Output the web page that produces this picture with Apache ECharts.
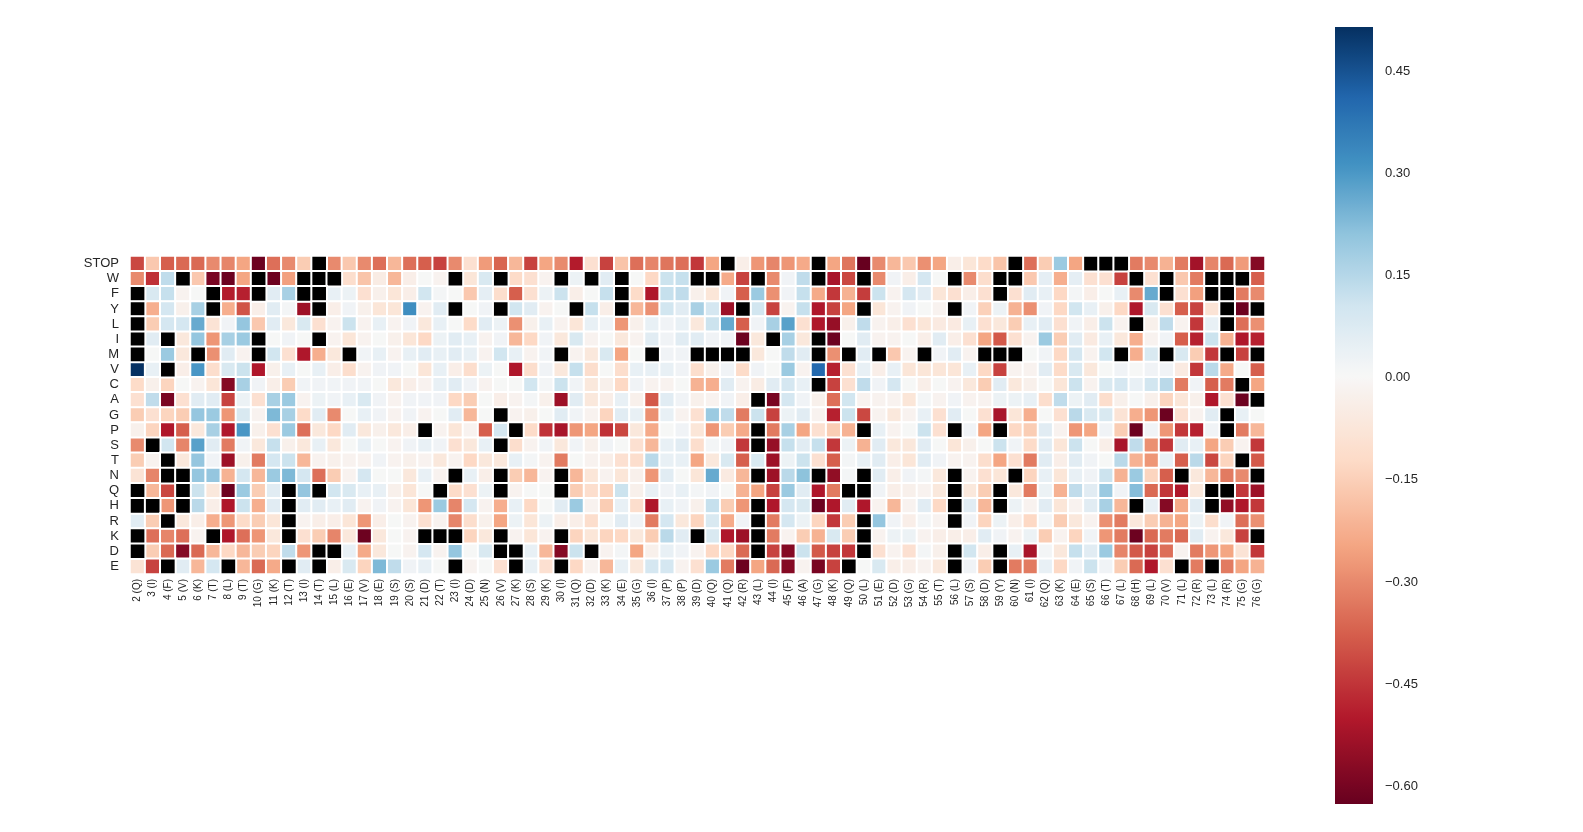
<!DOCTYPE html>
<html><head><meta charset="utf-8">
<script src="https://cdn.jsdelivr.net/npm/echarts@6/dist/echarts.min.js"></script>
<style>html,body{margin:0;padding:0;background:#fff}#chart{width:1583px;height:832px}</style>
</head><body><div id="chart"></div>
<script>
// Column categories (position, wild-type residue)
const positions = ['2 (Q)','3 (I)','4 (F)','5 (V)','6 (K)','7 (T)','8 (L)','9 (T)','10 (G)','11 (K)','12 (T)','13 (I)','14 (T)','15 (L)','16 (E)','17 (V)','18 (E)','19 (S)','20 (S)','21 (D)','22 (T)','23 (I)','24 (D)','25 (N)','26 (V)','27 (K)','28 (S)','29 (K)','30 (I)','31 (Q)','32 (D)','33 (K)','34 (E)','35 (G)','36 (I)','37 (P)','38 (P)','39 (D)','40 (Q)','41 (Q)','42 (R)','43 (L)','44 (I)','45 (F)','46 (A)','47 (G)','48 (K)','49 (Q)','50 (L)','51 (E)','52 (D)','53 (G)','54 (R)','55 (T)','56 (L)','57 (S)','58 (D)','59 (Y)','60 (N)','61 (I)','62 (Q)','63 (K)','64 (E)','65 (S)','66 (T)','67 (L)','68 (H)','69 (L)','70 (V)','71 (L)','72 (R)','73 (L)','74 (R)','75 (G)','76 (G)'];
// Row categories (substituted residue)
const mutations = ['STOP','W','F','Y','L','I','M','V','C','A','G','P','S','T','N','Q','H','R','K','D','E'];
// Values per row (null = missing, drawn black)
const values = [
[-0.42,-0.17,-0.38,-0.36,-0.36,-0.30,-0.31,-0.25,-0.62,-0.35,-0.30,-0.16,null,-0.30,-0.17,-0.30,-0.35,-0.21,-0.35,-0.38,-0.43,-0.30,-0.10,-0.27,-0.37,-0.21,-0.43,-0.25,-0.30,-0.50,-0.10,-0.43,-0.18,-0.35,-0.31,-0.34,-0.35,-0.45,-0.25,null,-0.04,-0.28,-0.31,-0.28,-0.24,null,-0.25,-0.34,-0.63,-0.30,-0.21,-0.17,-0.29,-0.25,-0.04,-0.08,-0.12,-0.18,null,-0.35,-0.16,0.19,-0.25,null,null,null,-0.33,-0.30,-0.22,-0.33,-0.53,-0.31,-0.36,-0.27,-0.58],
[-0.30,-0.46,0.13,null,-0.17,-0.60,-0.62,-0.25,null,-0.62,-0.26,null,null,null,-0.11,-0.18,-0.05,-0.21,-0.04,0.0,-0.02,null,-0.08,0.08,null,-0.12,-0.10,-0.02,null,0.03,null,0.06,null,0.0,-0.13,0.11,0.12,null,null,-0.24,-0.43,null,-0.30,0.02,0.13,null,-0.52,-0.42,null,-0.30,0.02,-0.04,0.09,0.0,null,-0.30,-0.11,null,null,-0.17,0.05,-0.23,0.05,-0.10,-0.10,-0.43,null,-0.10,null,-0.17,-0.33,null,null,null,-0.38],
[null,0.08,0.12,-0.02,0.0,null,-0.50,-0.49,null,0.06,0.17,null,null,0.04,0.03,-0.10,-0.03,-0.08,-0.04,0.10,0.01,0.0,-0.17,0.05,-0.11,-0.38,-0.10,0.03,0.11,-0.04,0.0,0.12,null,-0.12,-0.51,0.12,0.13,-0.03,-0.08,0.02,-0.38,0.19,-0.29,0.02,0.12,-0.24,-0.45,-0.22,-0.44,0.11,-0.02,0.09,0.06,-0.08,-0.10,-0.04,-0.10,null,-0.10,0.06,0.04,-0.13,0.01,-0.04,0.0,0.04,-0.30,0.26,null,-0.10,-0.26,null,null,-0.33,-0.30],
[null,-0.23,0.09,-0.03,0.17,null,-0.23,-0.40,-0.04,0.06,0.01,-0.54,null,-0.04,0.02,-0.03,-0.08,-0.08,0.32,-0.02,0.06,null,0.0,0.02,null,0.10,0.06,-0.02,0.0,null,0.12,-0.04,null,-0.21,-0.29,0.10,0.06,0.17,0.09,-0.54,null,0.10,-0.43,-0.02,0.12,-0.51,-0.43,-0.25,null,-0.08,-0.02,0.02,0.0,-0.02,null,0.02,-0.15,0.03,-0.22,-0.29,0.02,-0.13,0.10,0.04,-0.03,-0.13,-0.51,0.08,-0.10,-0.38,-0.43,-0.09,null,-0.62,null],
[null,-0.16,0.09,0.09,0.26,-0.09,0.02,0.20,-0.17,0.06,-0.07,0.08,-0.10,-0.02,0.11,-0.02,0.04,-0.02,0.02,-0.07,0.04,0.0,-0.12,0.06,0.03,-0.29,-0.03,0.04,-0.02,-0.08,0.04,0.02,-0.28,-0.03,0.04,0.02,0.04,-0.07,0.11,0.26,-0.38,0.02,0.17,0.28,-0.10,-0.51,-0.55,-0.03,0.13,-0.02,-0.04,-0.10,-0.08,-0.06,-0.06,0.04,-0.10,-0.07,-0.16,0.04,0.06,-0.10,0.02,-0.04,0.11,-0.02,null,-0.03,0.13,-0.02,-0.45,0.04,null,-0.35,-0.29],
[null,0.06,null,-0.07,0.20,-0.28,0.17,0.19,null,0.0,0.02,0.0,null,-0.02,-0.08,-0.02,0.0,-0.03,-0.08,-0.13,0.03,0.06,0.04,-0.02,0.02,-0.21,-0.13,0.02,-0.07,0.08,-0.02,0.0,-0.07,-0.02,0.06,0.02,0.06,0.06,0.02,0.02,-0.62,-0.07,null,0.17,-0.07,null,-0.62,0.0,0.06,-0.02,-0.02,0.0,-0.04,0.06,-0.04,-0.10,-0.25,-0.39,-0.10,-0.02,0.19,-0.16,0.06,-0.06,0.04,-0.07,-0.23,-0.02,0.02,-0.38,-0.49,0.11,-0.22,-0.51,-0.49],
[null,0.0,0.19,-0.07,null,-0.29,0.06,-0.02,null,0.10,-0.10,-0.51,-0.23,-0.07,null,0.02,0.04,-0.02,0.04,0.06,0.04,0.06,0.04,-0.02,0.10,0.04,-0.02,0.02,null,-0.02,-0.07,0.08,-0.25,0.0,null,0.02,0.02,null,null,null,null,-0.07,0.0,0.13,0.06,null,-0.29,null,0.06,null,-0.17,-0.02,null,0.02,0.06,-0.02,null,null,null,0.0,0.02,-0.13,0.09,-0.02,0.10,null,-0.23,0.08,null,0.08,-0.16,-0.45,null,-0.43,null],
[0.51,0.04,null,-0.04,0.30,-0.11,0.08,0.11,-0.51,-0.03,0.04,0.0,0.04,-0.04,-0.11,-0.02,0.02,0.02,0.0,-0.08,0.04,-0.04,-0.11,0.03,0.0,-0.51,-0.11,0.02,-0.07,0.12,-0.11,0.0,-0.11,0.04,0.04,0.04,0.02,-0.11,-0.03,0.02,-0.12,0.02,0.0,0.19,-0.02,0.40,-0.49,-0.10,0.04,-0.04,0.04,-0.08,-0.08,-0.08,-0.08,0.04,-0.13,-0.43,-0.02,-0.02,0.06,-0.12,0.08,-0.07,0.0,0.02,0.0,0.02,0.02,-0.06,-0.45,0.14,-0.24,0.0,-0.38],
[-0.12,-0.03,-0.14,0.0,-0.02,-0.08,-0.58,0.17,0.02,-0.04,-0.16,0.02,0.02,0.02,0.02,0.02,0.0,-0.07,-0.04,-0.02,0.04,0.06,0.02,-0.02,0.0,0.0,0.10,0.01,0.11,0.02,-0.07,-0.03,-0.13,0.02,-0.02,-0.02,0.0,-0.22,-0.23,0.06,-0.02,-0.05,0.06,0.09,0.04,null,-0.43,-0.10,0.13,0.02,0.09,0.0,-0.04,0.0,-0.02,-0.07,-0.16,0.06,-0.07,-0.03,0.0,-0.08,0.11,-0.02,0.08,0.09,0.04,0.10,0.14,-0.33,0.02,-0.38,-0.33,null,-0.25],
[-0.10,0.13,-0.60,-0.10,0.06,0.06,-0.43,0.03,-0.10,0.17,0.19,-0.02,0.03,0.02,0.04,0.08,0.02,-0.02,0.02,0.02,0.02,-0.13,-0.16,0.0,-0.04,-0.02,0.01,-0.03,-0.54,0.06,-0.07,-0.04,0.04,-0.03,-0.39,0.06,0.02,-0.03,-0.02,0.02,-0.04,null,-0.60,0.09,0.02,-0.03,-0.35,0.10,-0.02,-0.02,-0.02,-0.08,0.01,-0.02,0.02,-0.02,-0.02,0.03,0.03,0.04,-0.11,0.13,0.03,0.06,-0.11,-0.03,0.0,-0.03,-0.14,-0.08,-0.03,-0.51,-0.10,-0.62,null],
[-0.16,-0.10,-0.14,-0.16,0.20,0.19,-0.28,0.08,-0.02,0.23,0.17,-0.12,0.06,-0.30,0.0,0.04,0.02,-0.02,0.02,-0.02,0.0,0.06,-0.21,0.0,null,-0.02,-0.03,0.0,0.06,0.02,-0.02,-0.14,0.06,0.04,-0.29,0.04,-0.02,-0.10,0.19,0.13,-0.33,0.11,-0.43,0.03,0.06,-0.02,-0.49,0.11,-0.42,-0.02,-0.07,-0.02,0.04,-0.10,0.06,0.0,-0.10,-0.52,-0.08,-0.23,0.0,-0.10,0.14,0.08,0.08,-0.09,-0.23,-0.28,-0.62,-0.10,-0.02,0.06,null,0.04,0.0],
[-0.03,-0.14,-0.51,-0.38,-0.07,0.17,-0.51,0.30,-0.03,-0.10,0.19,-0.35,-0.07,-0.13,0.06,-0.07,-0.03,-0.07,-0.04,null,-0.02,-0.08,-0.02,-0.38,0.09,null,-0.12,-0.46,-0.52,-0.28,-0.25,-0.46,-0.42,-0.07,-0.24,0.0,0.02,-0.08,-0.28,-0.16,-0.24,null,-0.33,0.17,-0.25,-0.10,-0.16,-0.22,null,0.04,-0.02,0.0,0.11,-0.10,null,0.02,-0.25,null,-0.13,-0.16,0.06,-0.02,-0.28,-0.25,0.02,-0.16,-0.62,0.02,-0.28,-0.45,-0.49,0.02,null,-0.33,-0.21],
[-0.30,null,0.10,-0.31,0.28,0.06,-0.33,0.02,-0.07,0.12,-0.03,-0.07,0.04,-0.07,0.0,0.04,0.0,-0.02,0.02,0.04,0.02,-0.10,-0.07,0.04,null,-0.11,-0.02,0.02,-0.07,0.02,-0.03,0.02,0.0,-0.10,-0.21,0.04,0.06,-0.11,0.01,0.02,-0.45,null,-0.55,0.12,0.06,0.12,-0.45,0.03,-0.22,0.06,-0.07,-0.07,0.06,0.0,-0.08,-0.03,0.0,0.11,0.02,-0.12,0.06,-0.08,0.11,0.0,-0.04,-0.52,0.13,-0.29,-0.45,0.06,0.04,-0.25,-0.16,-0.02,-0.45],
[-0.16,-0.02,null,-0.07,0.20,0.02,-0.54,-0.03,-0.33,0.09,0.11,-0.21,-0.02,-0.03,-0.02,-0.02,0.02,-0.02,-0.03,-0.02,-0.07,-0.02,-0.13,-0.07,-0.07,0.04,0.01,-0.02,-0.33,0.0,-0.02,-0.04,-0.10,-0.11,0.14,0.04,0.04,-0.25,-0.07,0.08,-0.38,0.08,-0.54,0.03,0.11,-0.10,-0.38,0.01,0.04,0.06,-0.04,-0.08,0.06,0.02,-0.02,-0.02,-0.11,-0.25,-0.10,-0.33,0.06,-0.04,0.06,0.02,0.0,0.14,-0.22,-0.28,0.04,-0.38,0.14,-0.42,-0.14,null,-0.39],
[-0.09,-0.31,null,null,0.20,0.20,-0.22,0.09,-0.21,0.19,0.23,0.09,-0.35,-0.16,-0.02,0.09,0.0,0.0,-0.07,0.04,-0.02,null,0.04,-0.04,null,-0.16,-0.21,-0.02,null,-0.21,-0.08,-0.02,-0.08,-0.03,-0.28,0.06,0.0,-0.08,0.26,-0.06,-0.21,null,-0.54,0.14,0.21,null,-0.56,0.01,null,0.06,-0.04,0.02,0.01,-0.07,null,-0.02,-0.10,-0.08,null,-0.14,0.04,-0.08,0.04,0.02,0.11,-0.22,0.19,-0.14,-0.38,null,-0.07,-0.21,-0.33,-0.30,null],
[null,-0.21,-0.42,null,0.11,-0.07,-0.62,0.19,-0.16,0.06,null,0.20,null,0.10,0.08,0.04,0.04,-0.03,-0.08,0.0,null,-0.12,-0.10,0.03,null,-0.02,0.0,0.0,null,-0.16,-0.11,-0.14,0.11,-0.03,0.04,0.02,0.04,0.01,0.02,0.0,-0.22,-0.25,-0.43,0.19,0.06,-0.51,-0.33,null,null,0.02,-0.04,-0.03,-0.02,-0.07,null,-0.07,-0.16,null,-0.07,-0.33,0.03,-0.22,0.13,0.06,0.19,0.02,0.22,-0.36,-0.45,-0.51,-0.07,null,null,-0.45,-0.54],
[null,null,-0.28,null,0.14,-0.04,-0.51,0.11,-0.23,0.06,null,0.06,0.06,0.04,0.06,-0.02,0.02,-0.02,-0.08,-0.28,0.19,-0.31,0.09,-0.02,-0.23,0.04,-0.13,0.0,0.06,0.19,-0.02,-0.16,0.04,-0.11,-0.51,0.04,0.02,-0.03,0.12,-0.16,-0.28,null,-0.51,0.09,0.08,-0.62,-0.51,0.06,-0.51,-0.02,-0.21,-0.02,0.06,-0.13,null,0.06,-0.21,null,0.03,-0.02,0.06,-0.08,-0.02,0.06,0.17,-0.21,null,0.04,-0.58,-0.24,0.06,null,-0.56,-0.51,-0.45],
[0.06,-0.16,null,-0.07,-0.04,-0.23,-0.28,-0.12,-0.16,-0.08,null,-0.02,-0.04,-0.04,-0.08,-0.28,-0.04,0.0,-0.02,-0.10,-0.02,-0.31,-0.11,-0.03,-0.25,0.03,-0.08,0.03,-0.04,-0.04,-0.11,0.0,0.06,0.02,-0.33,0.09,-0.07,-0.14,0.08,-0.24,0.02,null,-0.33,0.09,0.03,-0.14,-0.45,-0.16,null,0.20,0.02,-0.04,0.01,-0.02,null,0.02,-0.14,0.03,-0.04,-0.13,0.01,-0.16,-0.07,-0.02,-0.29,-0.33,-0.07,-0.16,-0.22,-0.25,0.03,-0.11,0.02,-0.35,-0.29],
[null,-0.35,-0.31,-0.35,-0.02,null,-0.51,-0.35,-0.28,-0.07,null,-0.10,-0.16,-0.31,-0.07,-0.62,-0.07,0.0,-0.02,null,null,null,-0.14,-0.07,null,-0.02,-0.08,-0.02,null,-0.14,-0.08,-0.14,-0.13,-0.07,-0.16,0.14,0.06,null,0.08,-0.51,-0.54,null,-0.33,-0.02,-0.16,-0.22,0.08,-0.16,null,-0.02,0.03,0.03,-0.02,-0.04,-0.04,-0.04,0.06,0.02,-0.02,0.03,-0.16,-0.02,-0.14,0.02,-0.28,-0.33,-0.62,-0.36,-0.33,-0.36,0.06,-0.02,-0.07,-0.43,null],
[null,-0.16,-0.36,-0.58,-0.36,-0.21,-0.13,-0.21,-0.16,-0.14,0.13,-0.28,null,null,0.04,-0.24,-0.07,0.0,-0.02,0.09,-0.02,0.20,0.0,0.08,null,null,0.04,-0.21,-0.58,0.11,null,-0.02,0.01,-0.25,-0.03,0.04,0.02,-0.02,-0.13,-0.13,-0.36,null,-0.43,-0.58,0.11,-0.39,-0.43,-0.45,null,-0.10,-0.02,-0.10,0.01,-0.03,null,0.10,-0.04,null,0.04,-0.52,0.01,-0.07,0.12,0.06,0.19,-0.31,-0.39,-0.43,-0.35,-0.02,-0.33,-0.28,-0.25,-0.09,-0.45],
[-0.09,-0.43,null,0.06,-0.21,0.09,null,-0.21,-0.36,-0.24,null,0.06,null,-0.04,0.08,-0.14,0.23,0.13,0.02,0.04,0.0,null,-0.02,0.0,-0.10,null,0.04,-0.10,null,-0.13,-0.02,-0.21,0.04,-0.07,0.09,0.09,-0.02,-0.10,0.19,-0.33,-0.62,-0.25,-0.36,-0.58,-0.02,-0.60,-0.43,null,0.0,0.08,-0.04,-0.04,-0.02,-0.07,null,0.02,-0.16,null,-0.33,-0.33,0.04,-0.13,0.02,0.11,0.02,-0.16,-0.36,-0.51,-0.10,null,-0.33,null,-0.33,-0.25,-0.22]
];
const colorbarTicks = [-0.60,-0.45,-0.30,-0.15,0.00,0.15,0.30,0.45];
const valueMin = -0.63, valueMax = 0.512;

// RdBu colormap, white pinned at 0
const rdbu = ['#67001f','#b2182b','#d6604d','#f4a582','#fddbc7','#f7f7f7','#d1e5f0','#92c5de','#4393c3','#2166ac','#053061'];
function hex2rgb(h){return [parseInt(h.slice(1,3),16),parseInt(h.slice(3,5),16),parseInt(h.slice(5,7),16)];}
const rdbuRgb = rdbu.map(hex2rgb);
function colorAt(v){
  let t = v < 0 ? 0.5*(v - valueMin)/(0 - valueMin) : 0.5 + 0.5*v/valueMax;
  t = Math.max(0, Math.min(1, t));
  const p = t*10, i = Math.min(9, Math.floor(p)), f = p - i;
  const a = rdbuRgb[i], b = rdbuRgb[i+1];
  const c = a.map((x,k)=>Math.round(x + (b[k]-x)*f));
  return 'rgb(' + c.join(',') + ')';
}
const NSTOP = 120;
const mapColors = [], gradStops = [];
for (let i = 0; i <= NSTOP; i++) {
  mapColors.push(colorAt(valueMin + (valueMax - valueMin)*i/NSTOP));
  gradStops.push({offset: i/NSTOP, color: colorAt(valueMax - (valueMax - valueMin)*i/NSTOP)});
}

const cells = [], missing = [];
values.forEach((row, r) => row.forEach((v, c) => {
  if (v === null) missing.push([c, r, 0]); else cells.push([c, r, v]);
}));

const txt = '#262626';
const chart = echarts.init(document.getElementById('chart'), null, {renderer: 'canvas'});
chart.setOption({
  animation: false,
  backgroundColor: '#fff',
  textStyle: {fontFamily: 'Liberation Sans, Arial, sans-serif'},
  grid: [
    {left: 130, top: 256, width: 1135, height: 318},
    {left: 1335, top: 27, width: 38, height: 777}
  ],
  xAxis: [
    {type: 'category', gridIndex: 0, data: positions,
     axisLine: {show: false}, axisTick: {show: false}, splitLine: {show: false},
     axisLabel: {rotate: 90, fontSize: 10, color: txt, margin: 5, interval: 0}},
    {type: 'value', gridIndex: 1, min: 0, max: 1, show: false}
  ],
  yAxis: [
    {type: 'category', gridIndex: 0, data: mutations, inverse: true,
     axisLine: {show: false}, axisTick: {show: false}, splitLine: {show: false},
     axisLabel: {fontSize: 13, color: txt, margin: 11, interval: 0}},
    {type: 'value', gridIndex: 1, min: valueMin, max: valueMax, position: 'right',
     axisLine: {show: false}, axisTick: {show: false}, splitLine: {show: false},
     axisLabel: {fontSize: 13, color: txt, margin: 12, customValues: colorbarTicks,
       rich: {t: {fontSize: 13, color: txt, padding: [5, 0, 0, 0]}},
       formatter: v => '{t|' + (v < -1e-9 ? '\u2212' : '') + Math.abs(v).toFixed(2) + '}'}}
  ],
  visualMap: {
    show: false, type: 'continuous', seriesIndex: 0, dimension: 2,
    min: valueMin, max: valueMax, inRange: {color: mapColors}
  },
  series: [
    {type: 'heatmap', xAxisIndex: 0, yAxisIndex: 0, data: cells,
     itemStyle: {borderColor: '#fff', borderWidth: 2}, emphasis: {disabled: true}},
    {type: 'heatmap', xAxisIndex: 0, yAxisIndex: 0, data: missing,
     itemStyle: {color: '#000', borderColor: '#fff', borderWidth: 2}, emphasis: {disabled: true}},
    {type: 'custom', xAxisIndex: 1, yAxisIndex: 1, data: [[0, 0]], silent: true,
     renderItem: (params, api) => {
       const p0 = api.coord([0, valueMax]), p1 = api.coord([1, valueMin]);
       return {type: 'rect', shape: {x: p0[0], y: p0[1], width: p1[0]-p0[0], height: p1[1]-p0[1]},
               style: {fill: new echarts.graphic.LinearGradient(0, 0, 0, 1, gradStops)}};
     }}
  ]
});
</script></body></html>
